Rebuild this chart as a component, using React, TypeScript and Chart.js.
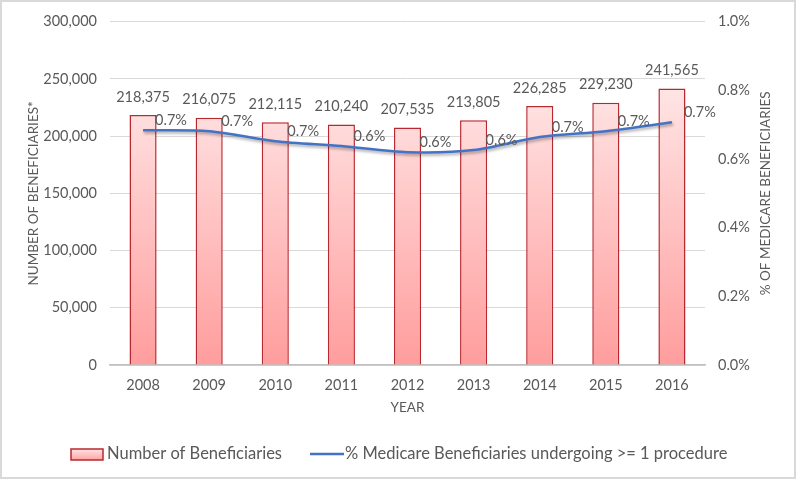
import React, { useEffect, useRef } from 'react';
import { Chart, registerables } from 'chart.js';

Chart.register(...registerables);

const years = ['2008', '2009', '2010', '2011', '2012', '2013', '2014', '2015', '2016'];
const beneficiaries = [218375, 216075, 212115, 210240, 207535, 213805, 226285, 229230, 241565];
const percentMedicare = [0.684, 0.681, 0.652, 0.638, 0.62, 0.626, 0.664, 0.681, 0.707];

const barLabel = 'Number of Beneficiaries';
const lineLabel = '% Medicare Beneficiaries undergoing >= 1 procedure';
const leftTitle = 'NUMBER OF BENEFICIARIES*';
const rightTitle = '% OF MEDICARE BENEFICIARIES';
const xTitle = 'YEAR';

const FONT = 'Lato, "Open Sans", sans-serif';
const GRAY = '#595959';
const BLUE = '#4472C4';
const RED = '#B8282E';

const fmtNum = (v: number) => Math.round(v).toLocaleString('en-US');
const fmtPct = (v: number) => v.toFixed(1) + '%';

const decorPlugin = {
  id: 'decor',
  beforeDatasetDraw(chart: any, args: any) {
    const ds = chart.data.datasets[args.index];
    if (ds.type === 'line') {
      const c = chart.ctx;
      c.save();
      c.shadowColor = 'rgba(0,0,0,0.35)';
      c.shadowBlur = 3;
      c.shadowOffsetX = 1;
      c.shadowOffsetY = 2;
    }
  },
  afterDatasetDraw(chart: any, args: any) {
    const ds = chart.data.datasets[args.index];
    if (ds.type === 'line') chart.ctx.restore();
  },
  afterDraw(chart: any) {
    const c = chart.ctx;
    const area = chart.chartArea;
    c.save();
    // data labels
    c.fillStyle = GRAY;
    c.font = `14.5px ${FONT}`;
    const barMeta = chart.getDatasetMeta(0);
    barMeta.data.forEach((el: any, i: number) => {
      c.textAlign = 'center';
      c.textBaseline = 'middle';
      c.fillText(fmtNum(beneficiaries[i]), el.x, el.y - 18);
    });
    const lineMeta = chart.getDatasetMeta(1);
    lineMeta.data.forEach((el: any, i: number) => {
      c.textAlign = 'left';
      c.textBaseline = 'middle';
      c.fillText(fmtPct(percentMedicare[i]), el.x + 12, el.y - 10);
    });
    // axis titles
    c.font = `13.5px ${FONT}`;
    c.textAlign = 'center';
    c.textBaseline = 'middle';
    const midY = (area.top + area.bottom) / 2;
    c.save();
    c.translate(34, midY);
    c.rotate(-Math.PI / 2);
    c.fillText(leftTitle, 0, 0);
    c.restore();
    c.save();
    c.translate(766, midY);
    c.rotate(-Math.PI / 2);
    c.fillText(rightTitle, 0, 0);
    c.restore();
    c.fillText(xTitle, (area.left + area.right) / 2, area.bottom + 43);
    // legend
    const ly = 454;
    const g = c.createLinearGradient(0, ly - 5, 0, ly + 6);
    g.addColorStop(0, '#FFE3E3');
    g.addColorStop(1, '#FFA3A3');
    c.fillStyle = g;
    c.fillRect(71, ly - 5, 32, 11);
    c.strokeStyle = RED;
    c.lineWidth = 1.5;
    c.strokeRect(71, ly - 5, 32, 11);
    c.fillStyle = GRAY;
    c.font = `16.5px ${FONT}`;
    c.textAlign = 'left';
    c.fillText(barLabel, 107, ly);
    c.strokeStyle = BLUE;
    c.lineWidth = 2.5;
    c.beginPath();
    c.moveTo(310, ly);
    c.lineTo(344, ly);
    c.stroke();
    c.fillText(lineLabel, 345, ly);
    // frame
    c.strokeStyle = '#D9D9D9';
    c.lineWidth = 2;
    c.strokeRect(1, 1, 794, 477);
    c.restore();
  },
};

export default function App() {
  const ref = useRef<HTMLCanvasElement>(null);
  useEffect(() => {
    document.body.style.margin = '0';
    const canvas = ref.current!;
    const chart = new Chart(canvas, {
      data: {
        labels: years,
        datasets: [
          {
            type: 'bar',
            label: barLabel,
            data: beneficiaries,
            yAxisID: 'y',
            order: 1,
            barPercentage: 0.41,
            categoryPercentage: 1,
            borderColor: RED,
            borderWidth: 1.5,
            backgroundColor: (ctx: any) => {
              const area = ctx.chart.chartArea;
              if (!area) return '#FFC0C0';
              const g = ctx.chart.ctx.createLinearGradient(0, area.top + 70, 0, area.bottom);
              g.addColorStop(0, '#FFE4E4');
              g.addColorStop(1, '#FF9D9D');
              return g;
            },
          },
          {
            type: 'line',
            label: lineLabel,
            data: percentMedicare,
            yAxisID: 'y1',
            order: 0,
            borderColor: BLUE,
            borderWidth: 2.5,
            pointRadius: 0,
            tension: 0.3,
            fill: false,
          },
        ],
      } as any,
      options: {
        responsive: false,
        animation: false,
        layout: { padding: { top: 20, left: 0, right: 0, bottom: 0 } },
        plugins: { legend: { display: false }, tooltip: { enabled: false } },
        scales: {
          x: {
            grid: { display: false, drawTicks: false },
            border: { color: '#BFBFBF', width: 1.5 },
            ticks: { color: GRAY, font: { family: FONT, size: 14.5 }, padding: 12 },
            afterFit: (s: any) => { s.height = 116; },
          },
          y: {
            position: 'left',
            min: 0,
            max: 300000,
            ticks: { stepSize: 50000, color: GRAY, font: { family: FONT, size: 14.5 }, padding: 13, callback: (v: any) => fmtNum(v) },
            grid: { color: '#D9D9D9', drawTicks: false },
            border: { display: false },
            afterFit: (s: any) => { s.width = 110; },
          },
          y1: {
            position: 'right',
            min: 0,
            max: 1.0,
            ticks: { stepSize: 0.2, color: GRAY, font: { family: FONT, size: 14.5 }, padding: 13, callback: (v: any) => fmtPct(v) },
            grid: { display: false, drawTicks: false },
            border: { display: false },
            afterFit: (s: any) => { s.width = 95; },
          },
        },
      } as any,
      plugins: [decorPlugin],
    });
    return () => chart.destroy();
  }, []);
  return (
    <div style={{ width: 800, height: 481, background: '#fff' }}>
      <canvas ref={ref} width={800} height={481} style={{ display: 'block' }} />
    </div>
  );
}
